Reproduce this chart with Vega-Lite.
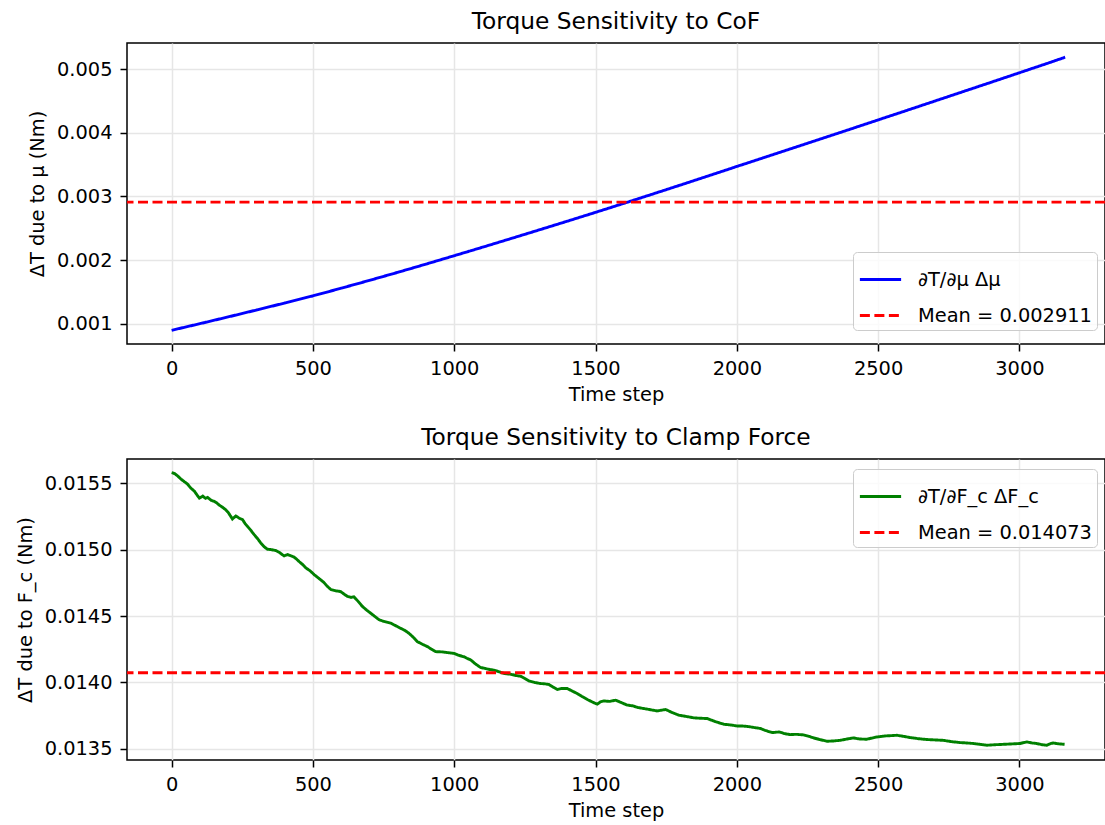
{
  "$schema": "https://vega.github.io/schema/vega-lite/v6.json",
  "padding": {"left": 14, "top": 8, "right": 0, "bottom": 5},
  "background": "white",
  "config": {
    "font": "DejaVu Sans",
    "view": {"stroke": "#000000", "strokeWidth": 1.5},
    "axis": {
      "domain": false,
      "grid": true,
      "gridColor": "#e6e6e6",
      "gridWidth": 1.5,
      "tickColor": "#000000",
      "tickSize": 7,
      "tickWidth": 1.5,
      "labelFontSize": 19.4,
      "labelColor": "#000000",
      "labelPadding": 8,
      "titleFontSize": 19.4,
      "titleFontWeight": "normal",
      "titleColor": "#000000",
      "titlePadding": 9
    },
    "axisX": {"titlePadding": 8},
    "title": {"fontSize": 23.3, "fontWeight": "normal", "color": "#000000", "offset": 9},
    "legend": {
      "title": null,
      "strokeColor": "#cccccc",
      "fillColor": "rgba(255,255,255,0.8)",
      "cornerRadius": 4,
      "padding": 5,
      "labelFontSize": 19.4,
      "labelColor": "#000000",
      "labelLimit": 400,
      "labelOffset": 15,
      "symbolType": "stroke",
      "symbolStrokeWidth": 2.9,
      "symbolSize": 1700,
      "rowPadding": 4
    }
  },
  "datasets": {
    "cof": [
      {"t": 0, "v": 0.000901, "s": "∂T/∂μ Δμ"},
      {"t": 100, "v": 0.001005, "s": "∂T/∂μ Δμ"},
      {"t": 200, "v": 0.001111, "s": "∂T/∂μ Δμ"},
      {"t": 300, "v": 0.001219, "s": "∂T/∂μ Δμ"},
      {"t": 400, "v": 0.001329, "s": "∂T/∂μ Δμ"},
      {"t": 500, "v": 0.001441, "s": "∂T/∂μ Δμ"},
      {"t": 600, "v": 0.001561, "s": "∂T/∂μ Δμ"},
      {"t": 700, "v": 0.001684, "s": "∂T/∂μ Δμ"},
      {"t": 800, "v": 0.001810, "s": "∂T/∂μ Δμ"},
      {"t": 900, "v": 0.001939, "s": "∂T/∂μ Δμ"},
      {"t": 1000, "v": 0.002071, "s": "∂T/∂μ Δμ"},
      {"t": 1100, "v": 0.002204, "s": "∂T/∂μ Δμ"},
      {"t": 1200, "v": 0.002339, "s": "∂T/∂μ Δμ"},
      {"t": 1300, "v": 0.002475, "s": "∂T/∂μ Δμ"},
      {"t": 1400, "v": 0.002612, "s": "∂T/∂μ Δμ"},
      {"t": 1500, "v": 0.002751, "s": "∂T/∂μ Δμ"},
      {"t": 1600, "v": 0.002892, "s": "∂T/∂μ Δμ"},
      {"t": 1700, "v": 0.003035, "s": "∂T/∂μ Δμ"},
      {"t": 1800, "v": 0.003179, "s": "∂T/∂μ Δμ"},
      {"t": 1900, "v": 0.003324, "s": "∂T/∂μ Δμ"},
      {"t": 2000, "v": 0.003471, "s": "∂T/∂μ Δμ"},
      {"t": 2100, "v": 0.003616, "s": "∂T/∂μ Δμ"},
      {"t": 2200, "v": 0.003762, "s": "∂T/∂μ Δμ"},
      {"t": 2300, "v": 0.003908, "s": "∂T/∂μ Δμ"},
      {"t": 2400, "v": 0.004054, "s": "∂T/∂μ Δμ"},
      {"t": 2500, "v": 0.004201, "s": "∂T/∂μ Δμ"},
      {"t": 2600, "v": 0.004348, "s": "∂T/∂μ Δμ"},
      {"t": 2700, "v": 0.004496, "s": "∂T/∂μ Δμ"},
      {"t": 2800, "v": 0.004644, "s": "∂T/∂μ Δμ"},
      {"t": 2900, "v": 0.004792, "s": "∂T/∂μ Δμ"},
      {"t": 3000, "v": 0.004941, "s": "∂T/∂μ Δμ"},
      {"t": 3100, "v": 0.005090, "s": "∂T/∂μ Δμ"},
      {"t": 3162, "v": 0.005185, "s": "∂T/∂μ Δμ"}
    ],
    "cofMean": [{"v": 0.002911, "s": "Mean = 0.002911"}],
    "fc": [
      {"t": 0, "v": 0.015578}, {"t": 10, "v": 0.015572}, {"t": 20, "v": 0.015556}, {"t": 33, "v": 0.015530},
      {"t": 45, "v": 0.015510}, {"t": 55, "v": 0.015495}, {"t": 68, "v": 0.015462}, {"t": 80, "v": 0.015440},
      {"t": 90, "v": 0.015410}, {"t": 98, "v": 0.015387}, {"t": 110, "v": 0.015402}, {"t": 120, "v": 0.015385},
      {"t": 127, "v": 0.015392}, {"t": 140, "v": 0.015370}, {"t": 151, "v": 0.015362}, {"t": 160, "v": 0.015350},
      {"t": 168, "v": 0.015335}, {"t": 180, "v": 0.015318}, {"t": 191, "v": 0.015300}, {"t": 200, "v": 0.015280},
      {"t": 215, "v": 0.015230}, {"t": 227, "v": 0.015252}, {"t": 240, "v": 0.015235}, {"t": 251, "v": 0.015225},
      {"t": 260, "v": 0.015195}, {"t": 268, "v": 0.015175}, {"t": 280, "v": 0.015145}, {"t": 292, "v": 0.015112},
      {"t": 305, "v": 0.015080}, {"t": 315, "v": 0.015050}, {"t": 328, "v": 0.015020}, {"t": 339, "v": 0.015002},
      {"t": 350, "v": 0.015000}, {"t": 368, "v": 0.014993}, {"t": 380, "v": 0.014980}, {"t": 398, "v": 0.014952},
      {"t": 410, "v": 0.014962}, {"t": 420, "v": 0.014955}, {"t": 433, "v": 0.014943}, {"t": 441, "v": 0.014930},
      {"t": 451, "v": 0.014910}, {"t": 463, "v": 0.014888}, {"t": 475, "v": 0.014862}, {"t": 490, "v": 0.014840},
      {"t": 504, "v": 0.014812}, {"t": 520, "v": 0.014785}, {"t": 539, "v": 0.014752}, {"t": 550, "v": 0.014725},
      {"t": 563, "v": 0.014700}, {"t": 580, "v": 0.014690}, {"t": 598, "v": 0.014684}, {"t": 610, "v": 0.014665},
      {"t": 622, "v": 0.014648}, {"t": 635, "v": 0.014640}, {"t": 645, "v": 0.014645}, {"t": 660, "v": 0.014610},
      {"t": 675, "v": 0.014572}, {"t": 690, "v": 0.014545}, {"t": 705, "v": 0.014520}, {"t": 720, "v": 0.014495},
      {"t": 734, "v": 0.014472}, {"t": 750, "v": 0.014460}, {"t": 775, "v": 0.014447}, {"t": 790, "v": 0.014430},
      {"t": 810, "v": 0.014408}, {"t": 825, "v": 0.014392}, {"t": 840, "v": 0.014370}, {"t": 855, "v": 0.014340},
      {"t": 869, "v": 0.014308}, {"t": 885, "v": 0.014290}, {"t": 905, "v": 0.014270}, {"t": 920, "v": 0.014250},
      {"t": 934, "v": 0.014232}, {"t": 958, "v": 0.014230}, {"t": 975, "v": 0.014225}, {"t": 999, "v": 0.014219},
      {"t": 1015, "v": 0.014205}, {"t": 1034, "v": 0.014194}, {"t": 1045, "v": 0.014182}, {"t": 1058, "v": 0.014170},
      {"t": 1075, "v": 0.014140}, {"t": 1093, "v": 0.014113}, {"t": 1110, "v": 0.014105}, {"t": 1125, "v": 0.014098},
      {"t": 1140, "v": 0.014093}, {"t": 1160, "v": 0.014080}, {"t": 1176, "v": 0.014068}, {"t": 1200, "v": 0.014062},
      {"t": 1220, "v": 0.014052}, {"t": 1235, "v": 0.014047}, {"t": 1250, "v": 0.014030}, {"t": 1264, "v": 0.014012},
      {"t": 1285, "v": 0.014000}, {"t": 1306, "v": 0.013992}, {"t": 1320, "v": 0.013990}, {"t": 1335, "v": 0.013985},
      {"t": 1350, "v": 0.013965}, {"t": 1365, "v": 0.013947}, {"t": 1380, "v": 0.013955}, {"t": 1400, "v": 0.013955},
      {"t": 1418, "v": 0.013935}, {"t": 1435, "v": 0.013917}, {"t": 1452, "v": 0.013895}, {"t": 1471, "v": 0.013872},
      {"t": 1490, "v": 0.013852}, {"t": 1506, "v": 0.013837}, {"t": 1518, "v": 0.013855}, {"t": 1529, "v": 0.013861},
      {"t": 1550, "v": 0.013858}, {"t": 1571, "v": 0.013867}, {"t": 1590, "v": 0.013850}, {"t": 1612, "v": 0.013830},
      {"t": 1630, "v": 0.013825}, {"t": 1650, "v": 0.013812}, {"t": 1671, "v": 0.013804}, {"t": 1695, "v": 0.013795},
      {"t": 1718, "v": 0.013786}, {"t": 1735, "v": 0.013792}, {"t": 1748, "v": 0.013797}, {"t": 1770, "v": 0.013775},
      {"t": 1795, "v": 0.013754}, {"t": 1820, "v": 0.013745}, {"t": 1848, "v": 0.013734}, {"t": 1870, "v": 0.013731},
      {"t": 1895, "v": 0.013729}, {"t": 1925, "v": 0.013705}, {"t": 1954, "v": 0.013686}, {"t": 1980, "v": 0.013680},
      {"t": 2001, "v": 0.013673}, {"t": 2025, "v": 0.013672}, {"t": 2049, "v": 0.013666}, {"t": 2065, "v": 0.013660},
      {"t": 2084, "v": 0.013654}, {"t": 2100, "v": 0.013640}, {"t": 2125, "v": 0.013623}, {"t": 2150, "v": 0.013628},
      {"t": 2170, "v": 0.013615}, {"t": 2189, "v": 0.013608}, {"t": 2210, "v": 0.013610}, {"t": 2236, "v": 0.013606},
      {"t": 2255, "v": 0.013595}, {"t": 2272, "v": 0.013583}, {"t": 2295, "v": 0.013570}, {"t": 2319, "v": 0.013558},
      {"t": 2340, "v": 0.013560}, {"t": 2366, "v": 0.013565}, {"t": 2390, "v": 0.013575}, {"t": 2413, "v": 0.013583},
      {"t": 2435, "v": 0.013575}, {"t": 2460, "v": 0.013573}, {"t": 2490, "v": 0.013588}, {"t": 2525, "v": 0.013598},
      {"t": 2545, "v": 0.013600}, {"t": 2566, "v": 0.013603}, {"t": 2590, "v": 0.013595}, {"t": 2613, "v": 0.013586},
      {"t": 2640, "v": 0.013578}, {"t": 2672, "v": 0.013571}, {"t": 2700, "v": 0.013568}, {"t": 2731, "v": 0.013565},
      {"t": 2760, "v": 0.013555}, {"t": 2790, "v": 0.013548}, {"t": 2815, "v": 0.013545}, {"t": 2837, "v": 0.013541},
      {"t": 2860, "v": 0.013535}, {"t": 2885, "v": 0.013528}, {"t": 2915, "v": 0.013532}, {"t": 2944, "v": 0.013535},
      {"t": 2975, "v": 0.013538}, {"t": 3002, "v": 0.013541}, {"t": 3015, "v": 0.013548}, {"t": 3026, "v": 0.013553},
      {"t": 3045, "v": 0.013545}, {"t": 3061, "v": 0.013541}, {"t": 3080, "v": 0.013532}, {"t": 3097, "v": 0.013528},
      {"t": 3110, "v": 0.013540}, {"t": 3120, "v": 0.013545}, {"t": 3140, "v": 0.013538}, {"t": 3160, "v": 0.013535}
    ],
    "fcMean": [{"v": 0.014073, "s": "Mean = 0.014073"}]
  },
  "resolve": {
    "scale": {"color": "independent", "strokeDash": "independent"},
    "legend": {"color": "independent", "strokeDash": "independent"}
  },
  "spacing": 19,
  "vconcat": [
    {
      "title": "Torque Sensitivity to CoF",
      "width": 978,
      "height": 301,
      "layer": [
        {
          "data": {"name": "cof"},
          "mark": {"type": "line", "strokeWidth": 2.9, "clip": true},
          "encoding": {
            "x": {"field": "t", "type": "quantitative", "scale": {"domain": [-158, 3303], "nice": false, "zero": false}, "axis": {"values": [0, 500, 1000, 1500, 2000, 2500, 3000], "title": "Time step", "format": "d"}},
            "y": {"field": "v", "type": "quantitative", "scale": {"domain": [0.000686, 0.005408], "nice": false, "zero": false}, "axis": {"values": [0.001, 0.002, 0.003, 0.004, 0.005], "format": ".3f", "title": "ΔT due to μ (Nm)"}},
            "color": {"field": "s", "type": "nominal", "scale": {"domain": ["∂T/∂μ Δμ", "Mean = 0.002911"], "range": ["#0000ff", "#ff0000"]}, "legend": {"orient": "none", "legendX": 726, "legendY": 209}},
            "strokeDash": {"field": "s", "type": "nominal", "scale": {"domain": ["∂T/∂μ Δμ", "Mean = 0.002911"], "range": [[1, 0], [10, 4.5]]}, "legend": {"orient": "none", "legendX": 726, "legendY": 209}}
          }
        },
        {
          "data": {"name": "cofMean"},
          "mark": {"type": "rule", "strokeWidth": 2.9},
          "encoding": {
            "y": {"field": "v", "type": "quantitative", "title": "ΔT due to μ (Nm)"},
            "color": {"field": "s", "type": "nominal"},
            "strokeDash": {"field": "s", "type": "nominal"}
          }
        }
      ]
    },
    {
      "title": "Torque Sensitivity to Clamp Force",
      "width": 978,
      "height": 301,
      "layer": [
        {
          "data": {"name": "fc"},
          "mark": {"type": "line", "strokeWidth": 2.9, "clip": true, "color": "#008000"},
          "encoding": {
            "x": {"field": "t", "type": "quantitative", "scale": {"domain": [-158, 3303], "nice": false, "zero": false}, "axis": {"values": [0, 500, 1000, 1500, 2000, 2500, 3000], "title": "Time step", "format": "d"}},
            "y": {"field": "v", "type": "quantitative", "scale": {"domain": [0.013417, 0.015681], "nice": false, "zero": false}, "axis": {"values": [0.0135, 0.014, 0.0145, 0.015, 0.0155], "format": ".4f", "title": "ΔT due to F_c (Nm)"}},
            "color": {"datum": "∂T/∂F_c ΔF_c", "type": "nominal", "scale": {"domain": ["∂T/∂F_c ΔF_c", "Mean = 0.014073"], "range": ["#008000", "#ff0000"]}, "legend": {"orient": "none", "legendX": 726, "legendY": 10}},
            "strokeDash": {"datum": "∂T/∂F_c ΔF_c", "type": "nominal", "scale": {"domain": ["∂T/∂F_c ΔF_c", "Mean = 0.014073"], "range": [[1, 0], [10, 4.5]]}, "legend": {"orient": "none", "legendX": 726, "legendY": 10}}
          }
        },
        {
          "data": {"name": "fcMean"},
          "mark": {"type": "rule", "strokeWidth": 2.9},
          "encoding": {
            "y": {"field": "v", "type": "quantitative", "title": "ΔT due to F_c (Nm)"},
            "color": {"field": "s", "type": "nominal"},
            "strokeDash": {"field": "s", "type": "nominal"}
          }
        }
      ]
    }
  ]
}
